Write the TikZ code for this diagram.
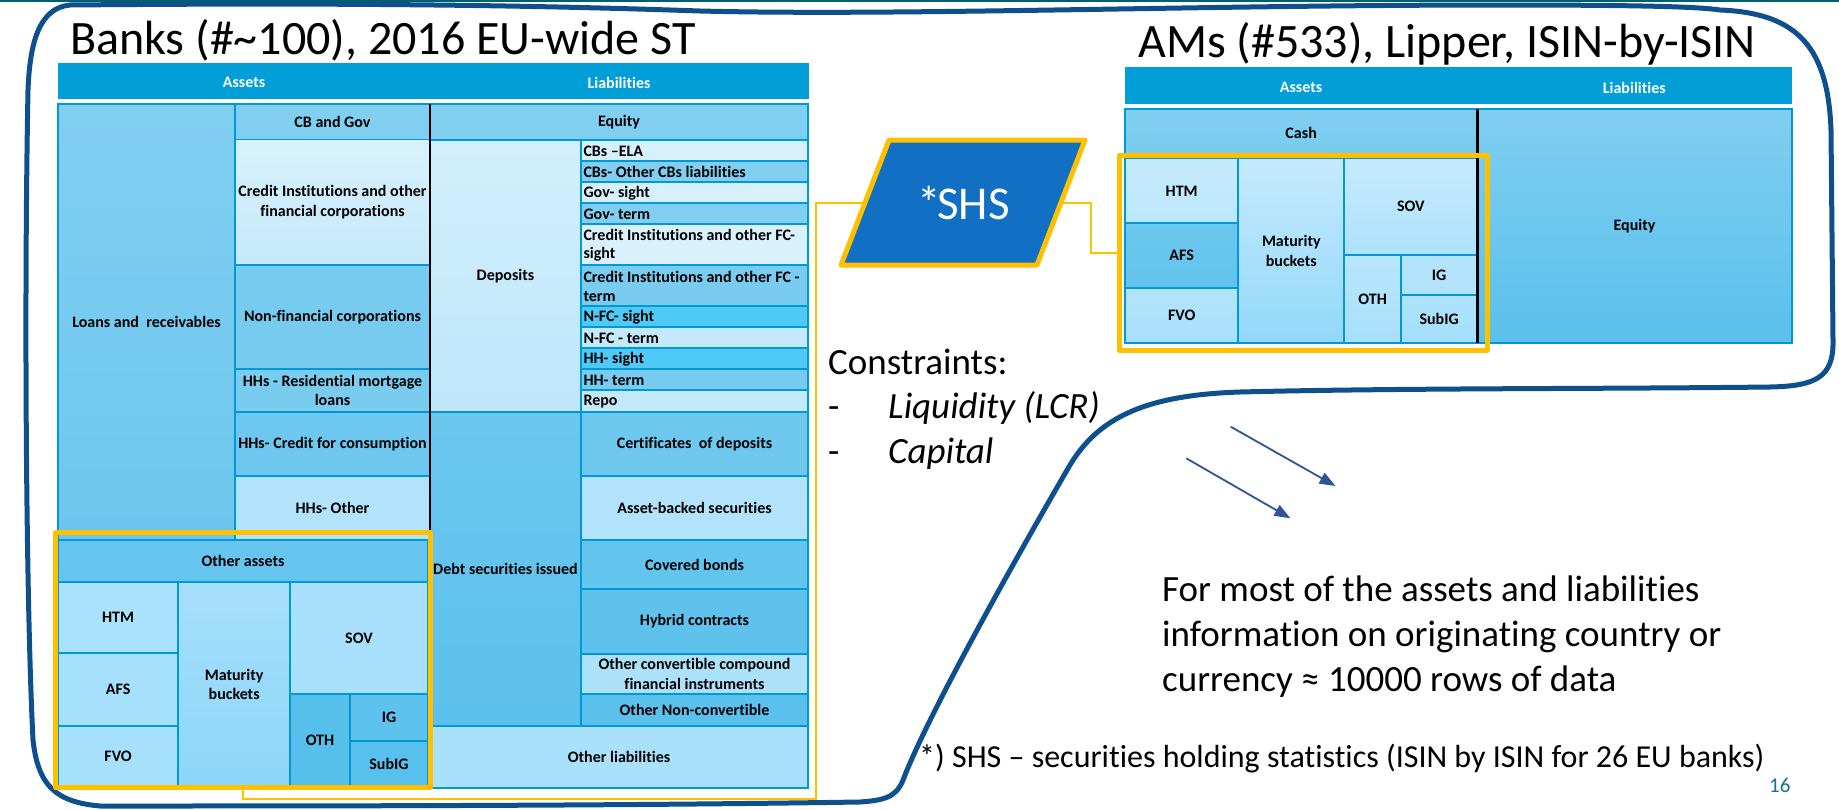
\documentclass[tikz,border=0pt]{standalone}
\usepackage{fontspec}
\setmainfont{Carlito}[Ligatures={TeX,NoCommon}]
\usetikzlibrary{arrows.meta,calc}

% palette
\definecolor{hdr}{RGB}{2,158,216}
\definecolor{edge}{RGB}{0,152,214}
\definecolor{gold}{RGB}{255,192,0}
\definecolor{navy}{RGB}{14,80,142}
\definecolor{shsblue}{RGB}{17,112,196}
\definecolor{arrowblue}{RGB}{47,85,151}
\definecolor{topteal}{RGB}{0,96,110}
\definecolor{pagenum}{RGB}{30,110,140}
\definecolor{klrT}{HTML}{80CFF1}\definecolor{klrB}{HTML}{6DC6EE}
\definecolor{kmid}{HTML}{80CEF0}
\definecolor{kpale}{HTML}{D6F0FC}
\definecolor{kciT}{HTML}{D8F1FC}\definecolor{kciB}{HTML}{C6E9FB}
\definecolor{knfc}{HTML}{77CBEF}
\definecolor{khhres}{HTML}{7ACCEF}
\definecolor{khhcons}{HTML}{6EC7EE}
\definecolor{khhoth}{HTML}{B3E3FB}
\definecolor{kdepT}{HTML}{D3EFFC}\definecolor{kdepB}{HTML}{BEE6FB}
\definecolor{kfcterm}{HTML}{79CCEF}
\definecolor{kcyan}{HTML}{4FC9F6}
\definecolor{klight}{HTML}{C4E9FB}
\definecolor{khhterm}{HTML}{77CBEF}
\definecolor{kdebtT}{HTML}{6CC7EE}\definecolor{kdebtB}{HTML}{5BC0EC}
\definecolor{kcert}{HTML}{6EC8EE}
\definecolor{kabs}{HTML}{B3E3FB}
\definecolor{kcov}{HTML}{63C4ED}
\definecolor{khyb}{HTML}{5FC2EC}
\definecolor{kconv}{HTML}{ACE1FA}
\definecolor{knonconv}{HTML}{5AC0EC}
\definecolor{kothliab}{HTML}{A9E0FA}
\definecolor{kothass}{HTML}{66C5EE}
\definecolor{khtm}{HTML}{AAE1FB}
\definecolor{kafs}{HTML}{A7E0FB}
\definecolor{kmatT}{HTML}{A6DFFB}\definecolor{kmatB}{HTML}{8DD6FA}
\definecolor{ksov}{HTML}{A8E0FB}
\definecolor{koth}{HTML}{56BFEC}
\definecolor{kig}{HTML}{5DC2ED}
\definecolor{ksubig}{HTML}{58C0EC}
\definecolor{kcashT}{HTML}{80CEF0}\definecolor{kcashB}{HTML}{78CBEF}
\definecolor{kahtmT}{HTML}{C6EAFC}\definecolor{kahtmB}{HTML}{BDE7FC}
\definecolor{kaafsT}{HTML}{6DC7EE}\definecolor{kaafsB}{HTML}{62C3ED}
\definecolor{kafvoT}{HTML}{B3E3FB}\definecolor{kafvoB}{HTML}{A8E0FB}
\definecolor{kamatT}{HTML}{C6EAFC}\definecolor{kamatB}{HTML}{92D8FA}
\definecolor{kasovT}{HTML}{C6EAFC}\definecolor{kasovB}{HTML}{AEE2FB}
\definecolor{kaothT}{HTML}{B9E6FB}\definecolor{kaothB}{HTML}{A8E0FA}
\definecolor{kaig}{HTML}{B2E3FB}
\definecolor{kasubT}{HTML}{AEE2FB}\definecolor{kasubB}{HTML}{A5DFFB}
\definecolor{kaeqT}{HTML}{80CEF0}\definecolor{kaeqB}{HTML}{5AC0EC}

\tikzset{
  bscell/.style={draw=edge, line width=1.8pt, align=center, inner sep=1pt, outer sep=0pt,
    font=\bfseries\fontsize{16}{19.5}\selectfont, text=black},
  rowtext/.style={anchor=west, align=left, inner sep=0pt,
    font=\bfseries\fontsize{16}{18.7}\selectfont, text=black},
  hdrbar/.style={fill=hdr, draw=none, inner sep=0pt, outer sep=0pt},
  hdrtext/.style={text=white, font=\bfseries\fontsize{16}{19}\selectfont, inner sep=0pt},
  goldbox/.style={draw=gold, line width=5pt, inner sep=0pt, line join=round},
  goldlink/.style={draw=gold, line width=1.6pt},
  divider/.style={draw=black, line width=2.6pt},
  headline/.style={font=\fontsize{48}{57}\selectfont, inner sep=0pt, anchor=base west},
  bodytext/.style={font=\fontsize{37}{45}\selectfont, inner sep=0pt, anchor=base west},
  pointer/.style={draw=arrowblue, line width=1.8pt, -{Triangle[length=16pt,width=12pt]}},
  rim/.style={draw=navy, line width=5pt, line cap=round, line join=round},
}

% a filled balance-sheet cell: name, x1, y1, x2, y2, top colour, bottom colour, text
\newcommand\cellbox[8]{%
  \node[bscell, top color=#6, bottom color=#7,
        minimum width={(#4-#2)*1pt}, minimum height={(#5-#3)*1pt}]
        (#1) at ({(#2+#4)/2},{(#3+#5)/2}) {#8};}
% a left-aligned row of the deposits column: name, y1, y2, colour, text
\newcommand\rowbox[5]{%
  \node[bscell, fill=#4, minimum width=227pt, minimum height={(#3-#2)*1pt}]
        (#1) at (694.5,{(#2+#3)/2}) {};
  \node[rowtext] (#1t) at (583.3,{(#2+#3)/2+0.8}) {#5};}

\begin{document}
\begin{tikzpicture}[x=1pt,y=-1pt]
\fill[white] (0,0) rectangle (1839,809);
\useasboundingbox (0,0) rectangle (1839,809);
\draw[topteal, line width=1.5pt] (0,0.8) -- (1839,0.8);

% hand-drawn frame around both balance sheets
\draw[rim] (70,5)
  .. controls (300,3) and (500,4) .. (700,11)
  .. controls (900,16) and (1200,5) .. (1500,5)
  .. controls (1650,5) and (1700,7) .. (1720,10)
  .. controls (1800,13) and (1828,50) .. (1831,130)
  -- (1833,340)
  .. controls (1834,378) and (1815,386) .. (1770,387)
  .. controls (1600,389) and (1400,388) .. (1240,392)
  .. controls (1150,395) and (1100,415) .. (1070,465)
  .. controls (1035,525) and (935,700) .. (905,775)
  .. controls (898,795) and (890,800) .. (860,802)
  .. controls (600,806) and (300,806) .. (100,806)
  .. controls (55,802) and (38,785) .. (33,740)
  .. controls (26,600) and (24,300) .. (28,90)
  .. controls (30,40) and (40,8) .. (70,5) -- cycle;

% ---------- banks balance sheet ----------
\node[hdrbar, minimum width=751pt, minimum height=36.3pt] (bhead) at (433.5,80.85) {};
\node[hdrtext] (bassets) at (244,82.8) {Assets};
\node[hdrtext] (bliab) at (619,82.8) {Liabilities};

\cellbox{loans}{58}{104}{235}{540}{klrT}{klrB}{Loans and\ \ receivables}
\cellbox{cbgov}{235}{104}{430}{139.5}{kmid}{kmid}{CB and Gov}
\cellbox{cifc}{235}{139.5}{430}{265}{kciT}{kciB}{Credit Institutions and other\\financial corporations}
\cellbox{nfc}{235}{265}{430}{369}{knfc}{knfc}{Non-financial corporations}
\cellbox{hhres}{235}{369}{430}{411.7}{khhres}{khhres}{HHs - Residential mortgage\\loans}
\cellbox{hhcons}{235}{411.7}{430}{476}{khhcons}{khhcons}{HHs- Credit for consumption}
\cellbox{hhoth}{235}{476}{430}{540}{khhoth}{khhoth}{HHs- Other}

\cellbox{equity}{430}{104}{808}{140}{kmid}{kmid}{Equity}
\cellbox{deposits}{430}{140}{581}{411.7}{kdepT}{kdepB}{Deposits}
\rowbox{dela}{140}{161}{kpale}{CBs –ELA}
\rowbox{dcbo}{161}{182}{kmid}{CBs- Other CBs liabilities}
\rowbox{dgovs}{182}{203}{kpale}{Gov- sight}
\rowbox{dgovt}{203}{224}{kmid}{Gov- term}
\rowbox{dcis}{224}{265}{kciT}{Credit Institutions and other FC-\\sight}
\rowbox{dcit}{265}{306}{kfcterm}{Credit Institutions and other FC -\\term}
\rowbox{dnfcs}{306}{327}{kcyan}{N-FC- sight}
\rowbox{dnfct}{327}{348}{klight}{N-FC - term}
\rowbox{dhhs}{348}{369}{kcyan}{HH- sight}
\rowbox{dhht}{369}{390}{khhterm}{HH- term}
\rowbox{drepo}{390}{411.7}{klight}{Repo}
\cellbox{debt}{430}{411.7}{581}{725.7}{kdebtT}{kdebtB}{Debt securities issued}
\cellbox{cert}{581}{411.7}{808}{476}{kcert}{kcert}{Certificates\ \ of deposits}
\cellbox{abs}{581}{476}{808}{540}{kabs}{kabs}{Asset-backed securities}
\cellbox{covb}{581}{540}{808}{589}{kcov}{kcov}{Covered bonds}
\cellbox{hybr}{581}{589}{808}{654}{khyb}{khyb}{Hybrid contracts}
\cellbox{oconv}{581}{654}{808}{694}{kconv}{kconv}{Other convertible compound\\financial instruments}
\cellbox{ononc}{581}{694}{808}{725.7}{knonconv}{knonconv}{Other Non-convertible}
\cellbox{othliab}{430}{725.7}{808}{788.3}{kothliab}{kothliab}{Other liabilities}
\draw[divider] (430,104) -- (430,540);

\cellbox{othass}{58}{540}{428}{581.7}{kothass}{kothass}{Other assets}
\cellbox{htm}{58}{581.7}{178.3}{653.3}{khtm}{khtm}{HTM}
\cellbox{afs}{58}{653.3}{178.3}{725.7}{kafs}{kafs}{AFS}
\cellbox{fvo}{58}{725.7}{178.3}{786.7}{kafs}{kafs}{FVO}
\cellbox{mat}{178.3}{581.7}{290}{786.7}{kmatT}{kmatB}{Maturity\\buckets}
\cellbox{sov}{290}{581.7}{428}{694}{ksov}{ksov}{SOV}
\cellbox{oth}{290}{694}{350}{786.7}{koth}{koth}{OTH}
\cellbox{ig}{350}{694}{428}{741}{kig}{kig}{IG}
\cellbox{subig}{350}{741}{428}{786.7}{ksubig}{ksubig}{SubIG}

% ---------- asset managers balance sheet ----------
\node[hdrbar, minimum width=666.7pt, minimum height=36.7pt] (ahead) at (1458.35,85.65) {};
\node[hdrtext] (aassets) at (1301,87.6) {Assets};
\node[hdrtext] (aliab) at (1634.3,87.6) {Liabilities};

\cellbox{cash}{1125}{109}{1477.3}{156}{kcashT}{kcashB}{Cash}
\cellbox{amhtm}{1125}{158.5}{1238.3}{223.3}{kahtmT}{kahtmB}{HTM}
\cellbox{amafs}{1125}{223.3}{1238.3}{288.3}{kaafsT}{kaafsB}{AFS}
\cellbox{amfvo}{1125}{288.3}{1238.3}{343.3}{kafvoT}{kafvoB}{FVO}
\cellbox{ammat}{1238.3}{158.5}{1344.3}{343.3}{kamatT}{kamatB}{Maturity\\buckets}
\cellbox{amsov}{1344.3}{158.5}{1477.3}{255}{kasovT}{kasovB}{SOV}
\cellbox{amoth}{1344.3}{255}{1401}{343.3}{kaothT}{kaothB}{OTH}
\cellbox{amig}{1401}{255}{1477.3}{295}{kaig}{kaig}{IG}
\cellbox{amsub}{1401}{295}{1477.3}{343.3}{kasubT}{kasubB}{SubIG}
\cellbox{amequity}{1477.3}{109}{1791.7}{343.3}{kaeqT}{kaeqB}{Equity}
\draw[divider] (1477.3,109) -- (1477.3,343.3);

% ---------- securities holdings highlight ----------
\node[goldbox, minimum width=374.3pt, minimum height=255pt] (bankbox) at (242.85,660.2) {};
\node[goldbox, minimum width=368.3pt, minimum height=195pt] (amsbox) at (1303.35,252.7) {};

\coordinate (shsL) at (864.8,203);
\coordinate (shsR) at (1060.8,203);
\coordinate (bankfoot) at (bankbox.south |- 0,799);
\draw[goldlink] (shsL) -- ++(-48.8,0) |- (bankfoot) -- (bankbox.south);
\draw[goldlink] (shsR) -- ++(30.2,0) |- (amsbox.west);

\coordinate (pBL) at (841,265);
\coordinate (pTL) at (889,140);
\coordinate (pTR) at (1085,140);
\coordinate (pBR) at (1037,265);
\filldraw[fill=shsblue, draw=gold, line width=5pt, line join=round]
  (pBL) -- (pTL) -- (pTR) -- (pBR) -- cycle;
\node[font=\fontsize{47}{56}\selectfont, text=white, anchor=base, inner sep=0pt]
  (shs) at (963.7,219) {*\kern-4pt SHS};

% ---------- titles and notes ----------
\node[headline] (banktitle) at (70,54) {Banks (\#\textasciitilde 100), 2016 EU-wide ST};
\node[headline] (amtitle) at (1138,57) {AMs (\#533), Lipper, ISIN-by-ISIN};

\node[bodytext] (cons) at (828,374) {Constraints:};
\node[bodytext] (dash1) at (828,418.5) {-};
\node[bodytext] (liq) at (888,418.5) {\itshape Liquidity (LCR)};
\node[bodytext] (dash2) at (828,463) {-};
\node[bodytext] (capit) at (888,463) {\itshape Capital};

\coordinate (a1s) at (1230.7,426.7);
\coordinate (a1e) at (1335.5,486);
\coordinate (a2s) at (1186.3,458.3);
\coordinate (a2e) at (1290.4,518.3);
\draw[pointer] (a1s) -- (a1e);
\draw[pointer] (a2s) -- (a2e);

\node[bodytext] (info1) at (1162,601.7) {For most of the assets and liabilities};
\node[bodytext] (info2) at (1162,646.7) {information on originating country or};
\node[bodytext] (info3) at (1162,691.7) {currency ≈ 10000 rows of data};

\node[font=\fontsize{32}{38}\selectfont, inner sep=0pt, anchor=base west]
  (foot) at (919,767.7) {*) SHS – securities holding statistics (ISIN by ISIN for 26 EU banks)};
\node[font=\fontsize{21}{25}\selectfont, text=pagenum, inner sep=0pt, anchor=base west]
  (pnum) at (1769,792) {16};
\end{tikzpicture}
\end{document}
